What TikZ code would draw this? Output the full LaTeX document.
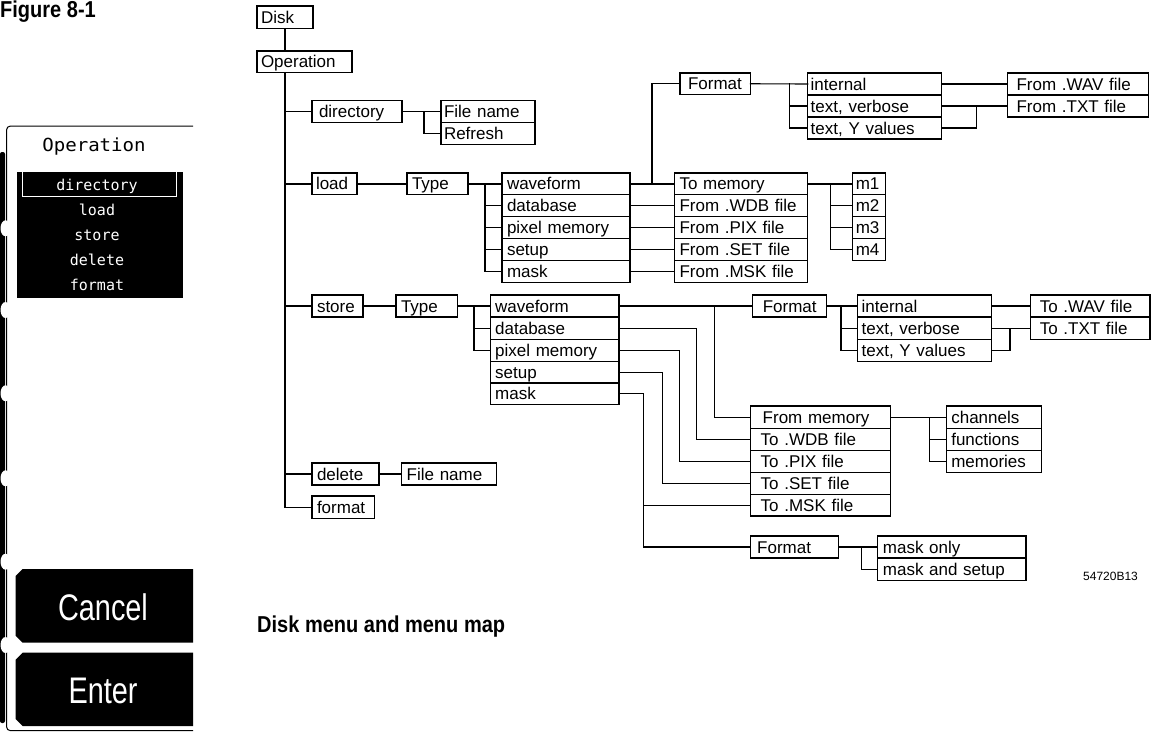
\documentclass[tikz,border=0pt]{standalone}
\usepackage{fontspec}
\setmainfont{Liberation Sans}[WordSpace=1.3]
\newfontfamily\capfont{Liberation Sans}[FakeStretch=0.87]
\newfontfamily\scrmono{DejaVu Sans Mono}
\newfontfamily\btnfont{Liberation Sans}[FakeStretch=0.78]
\usetikzlibrary{calc}
\tikzset{
  box/.style={draw, line width=1.1pt, rectangle, inner ysep=0pt, outer sep=0pt, align=left,
    text height=13.5pt, text depth=1.5pt, font=\fontsize{17}{20}\selectfont},
  conn/.style={line width=1.1pt, line cap=rect},
  menuitem/.style={text=white, anchor=base, inner sep=0pt, font=\scrmono\fontsize{15}{18}\selectfont},
  btntext/.style={text=white, anchor=base, inner sep=0pt, font=\btnfont\fontsize{37}{40}\selectfont},
  bold cap/.style={anchor=base west, inner sep=0pt, font=\capfont\bfseries\fontsize{23}{26}\selectfont}
}
\newcommand\bx[7][5]{%
  \pgfmathsetmacro\bxh{#6-#4}\pgfmathsetmacro\bxtw{#5-#3-2*#1}%
  \node[box, anchor=north west, minimum height=\bxh pt, text width=\bxtw pt, inner xsep=#1 pt] (#2) at (#3,#4) {\mbox{#7}};}
\begin{document}
\begin{tikzpicture}[x=1pt,y=-1pt]
\useasboundingbox (0,0) rectangle (1151,732);

% ---------- left screen panel ----------
\node[bold cap] (fig) at (0,17) {Figure 8-1};
\draw[line width=1pt, rounded corners=4] (193,126) -- (6.5,126) -- (6.5,730.7) -- (193,730.7);
\fill[black, rounded corners=2] (0,152) rectangle (5,723);
\foreach \yy in {228.3,310,393.3,478.3,561.7,645}
  \fill[white] (5.5,\yy) ellipse [x radius=5, y radius=8];
\node[anchor=base, inner sep=0pt, font=\scrmono\fontsize{18}{20}\selectfont] (optitle) at (94,151.7) {\scalebox{1.06}[1]{Operation}};
\fill[black] (17.3,172.3) rectangle (182.7,297.7);
\draw[white, line width=1.3pt] (22.5,172.3) -- (22.5,196.5) -- (176.5,196.5) -- (176.5,172.3);
\node[menuitem] (mdir) at (97,190) {directory};
\node[menuitem] (mload) at (97,215) {load};
\node[menuitem] (mstore) at (97,240) {store};
\node[menuitem] (mdel) at (97,265) {delete};
\node[menuitem] (mfmt) at (97,290) {format};
\fill[black] (22.7,569) -- (193,569) -- (193,642.7) -- (22.7,642.7) -- (15.7,635.7) -- (15.7,576) -- cycle;
\fill[black] (22.7,652.7) -- (193,652.7) -- (193,726) -- (22.7,726) -- (15.7,719) -- (15.7,659.7) -- cycle;
\node[btntext] (cancel) at (103,620) {Cancel};
\node[btntext] (enter) at (103,703) {Enter};

% ---------- menu map boxes ----------
\bx[4]{disk}{257}{6}{313}{28.3}{Disk}
\bx[4]{op}{257}{51}{352}{72.3}{Operation}
\bx[7]{dir}{312}{100.3}{402}{122.3}{directory}
\bx[3]{dfn}{441}{100.3}{535}{122.3}{File name}
\bx[3]{dref}{441}{122.3}{535}{144.3}{Refresh}
\bx[4]{load}{312}{173}{357}{194.9}{load}
\bx[5]{ltype}{407}{173}{468}{194.9}{Type}
\bx[5]{la}{502}{173}{630}{194.9}{waveform}
\bx[5]{lb}{502}{194.9}{630}{216.8}{database}
\bx[5]{lc}{502}{216.8}{630}{238.7}{pixel memory}
\bx[5]{ld}{502}{238.7}{630}{260.6}{setup}
\bx[5]{le}{502}{260.6}{630}{282.5}{mask}
\bx[5]{ma}{674.5}{173}{807.3}{194.9}{To memory}
\bx[5]{mb}{674.5}{194.9}{807.3}{216.8}{From .WDB file}
\bx[5]{mc}{674.5}{216.8}{807.3}{238.7}{From .PIX file}
\bx[5]{md}{674.5}{238.7}{807.3}{260.6}{From .SET file}
\bx[5]{me}{674.5}{260.6}{807.3}{282.5}{From .MSK file}
\bx[3.5]{mm1}{852.3}{173}{885.3}{194.9}{m1}
\bx[3.5]{mm2}{852.3}{194.9}{885.3}{216.8}{m2}
\bx[3.5]{mm3}{852.3}{216.8}{885.3}{238.7}{m3}
\bx[3.5]{mm4}{852.3}{238.7}{885.3}{260.6}{m4}
\bx[8]{lf}{680}{73}{750.4}{94.5}{Format}
\bx[3]{lia}{807.7}{73}{941.5}{95}{internal}
\bx[3]{lib}{807.7}{95}{941.5}{117}{text, verbose}
\bx[3]{lic}{807.7}{117}{941.5}{139}{text, Y values}
\bx[9]{lwa}{1007.6}{73}{1148.8}{95}{From .WAV file}
\bx[9]{lwb}{1007.6}{95}{1148.8}{117}{From .TXT file}

\bx[5]{store}{312}{295}{363}{317}{store}
\bx[5]{stype}{396}{295}{457.7}{317}{Type}
\bx[4.5]{sa}{490.7}{295}{619}{317}{waveform}
\bx[4.5]{sb}{490.7}{317}{619}{339.3}{database}
\bx[4.5]{sc}{490.7}{339.3}{619}{361.3}{pixel memory}
\bx[4.5]{sd}{490.7}{361.3}{619}{383}{setup}
\bx[4.5]{se}{490.7}{383}{619}{404.5}{mask}
\bx[10]{sf}{752.8}{295}{826.6}{317}{Format}
\bx[4]{sia}{857.6}{295}{991.4}{317}{internal}
\bx[4]{sib}{857.6}{317}{991.4}{339.3}{text, verbose}
\bx[4]{sic}{857.6}{339.3}{991.4}{361.3}{text, Y values}
\bx[9]{sta}{1030.8}{295}{1150}{317}{To .WAV file}
\bx[9]{stb}{1030.8}{317}{1150}{339.3}{To .TXT file}
\bx[12]{fra}{750.7}{406}{890.2}{428.3}{From memory}
\bx[10]{frb}{750.7}{428.3}{890.2}{450.7}{To .WDB file}
\bx[10]{frc}{750.7}{450.7}{890.2}{472.7}{To .PIX file}
\bx[10]{frd}{750.7}{472.7}{890.2}{494.3}{To .SET file}
\bx[10]{fre}{750.7}{494.3}{890.2}{516}{To .MSK file}
\bx[4.5]{cha}{946.8}{406}{1041.3}{428.3}{channels}
\bx[4.5]{chb}{946.8}{428.3}{1041.3}{450.7}{functions}
\bx[4.5]{chc}{946.8}{450.7}{1041.3}{472.7}{memories}
\bx[6.5]{mf}{750.7}{536}{838.9}{558}{Format}
\bx[5]{moa}{877.9}{536}{1026}{558}{mask only}
\bx[5]{mob}{877.9}{558}{1026}{580.5}{mask and setup}

\bx[5]{del}{312}{463}{379}{485}{delete}
\bx[5]{dfile}{401.7}{463}{496.7}{485}{File name}
\bx[5]{fmt}{312}{496}{374.3}{518.3}{format}

% ---------- connectors ----------
\draw[conn] (disk.south) -- (disk.south |- op.north);
\draw[conn] (disk.south |- op.south) -- (disk.south |- fmt.west) -- (fmt.west);
\foreach \n in {dir,load,store,del} \draw[conn] (disk.south |- \n.west) -- (\n.west);

\coordinate (jd) at (424,0);
\draw[conn] (dir.east) -- (dfn.west);
\draw[conn] (jd |- dfn.west) |- (dref.west);

\draw[conn] (load.east) -- (ltype.west);
\draw[conn] (ltype.east) -- (la.west);
\coordinate (jl) at (485,0);
\draw[conn] (jl |- la.west) |- (le.west);
\foreach \n in {lb,lc,ld} \draw[conn] (jl |- \n.west) -- (\n.west);
\foreach \a/\b in {la/ma,lb/mb,lc/mc,ld/md,le/me} \draw[conn] (\a.east) -- (\b.west);
\coordinate (jf) at (652,0);
\draw[conn] (jf |- la.east) |- (lf.west);
\draw[conn] (lf.east) -- (lia.west);
\coordinate (jli) at (789.7,0);
\draw[conn] (jli |- lia.west) |- (lic.west);
\draw[conn] (jli |- lib.west) -- (lib.west);
\draw[conn] (lia.east) -- (lwa.west);
\draw[conn] (lib.east) -- (lwb.west);
\coordinate (jlr) at (976.7,0);
\draw[conn] (lic.east) -| (jlr |- lib.east);
\draw[conn] (ma.east) -- (mm1.west);
\coordinate (jm) at (830.2,0);
\draw[conn] (jm |- mm1.west) |- (mm4.west);
\foreach \n in {mm2,mm3} \draw[conn] (jm |- \n.west) -- (\n.west);

\draw[conn] (store.east) -- (stype.west);
\draw[conn] (stype.east) -- (sa.west);
\coordinate (js) at (474,0);
\draw[conn] (js |- sa.west) |- (sc.west);
\draw[conn] (js |- sb.west) -- (sb.west);
\draw[conn] (sa.east) -- (sf.west);
\coordinate (j1) at (714.9,0);
\draw[conn] (j1 |- sa.east) |- (fra.west);
\coordinate (j2) at (696.6,0);
\draw[conn] (sb.east) -| (j2 |- frb.west) -- (frb.west);
\coordinate (j3) at (679.1,0);
\draw[conn] (sc.east) -| (j3 |- frc.west) -- (frc.west);
\coordinate (j4) at (662.2,0);
\draw[conn] (sd.east) -| (j4 |- frd.west) -- (frd.west);
\coordinate (j5) at (643.6,0);
\draw[conn] (se.east) -| (j5 |- mf.west) -- (mf.west);
\draw[conn] (j5 |- fre.west) -- (fre.west);
\draw[conn] (sf.east) -- (sia.west);
\coordinate (jsi) at (841,0);
\draw[conn] (jsi |- sia.west) |- (sic.west);
\draw[conn] (jsi |- sib.west) -- (sib.west);
\draw[conn] (sia.east) -- (sta.west);
\draw[conn] (sib.east) -- (stb.west);
\coordinate (jsr) at (1010,0);
\draw[conn] (sic.east) -| (jsr |- sib.east);
\draw[conn] (fra.east) -- (cha.west);
\coordinate (jc) at (929.6,0);
\draw[conn] (jc |- cha.west) |- (chc.west);
\draw[conn] (jc |- chb.west) -- (chb.west);
\draw[conn] (mf.east) -- (moa.west);
\coordinate (jmo) at (861.8,0);
\draw[conn] (jmo |- moa.west) |- (mob.west);
\draw[conn] (del.east) -- (dfile.west);

% ---------- captions ----------
\node[anchor=base west, inner sep=0pt, font=\fontsize{12}{14}\selectfont] (code) at (1083,580) {54720B13};
\node[bold cap] (cap) at (257,632) {Disk menu and menu map};
\end{tikzpicture}
\end{document}
